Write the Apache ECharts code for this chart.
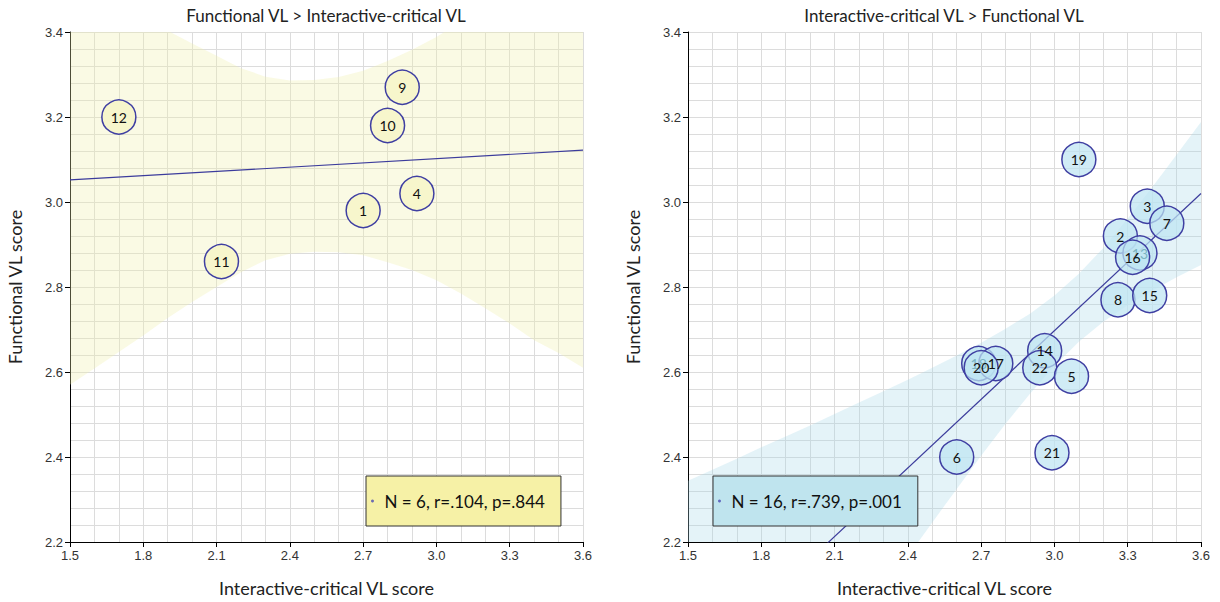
<!DOCTYPE html>
<html>
<head>
<meta charset="utf-8">
<script src="https://cdn.jsdelivr.net/npm/echarts@6/dist/echarts.min.js"></script>
<style>
  html, body { margin: 0; padding: 0; background: #fff; }
  #main { width: 1220px; height: 602px; }
</style>
</head>
<body>
<div id="main"></div>
<script>
(function() {
  'use strict';

  // ========== Data ==========
  // left panel: Functional VL > Interactive-critical VL
  var leftIds = [12, 9, 10, 4, 1, 11];
  var leftX = [1.70, 2.86, 2.80, 2.92, 2.70, 2.12];
  var leftY = [3.20, 3.27, 3.18, 3.02, 2.98, 2.86];
  var leftFitX = [1.5, 3.6];
  var leftFitY = [3.052, 3.122];
  var leftBandX = [1.5, 1.6, 1.7, 1.8, 1.9, 2.0, 2.1, 2.2, 2.3, 2.4, 2.5, 2.6, 2.7, 2.8, 2.9, 3.0, 3.1, 3.2, 3.3, 3.4, 3.5, 3.6];
  var leftBandLow = [2.570, 2.608, 2.647, 2.686, 2.727, 2.765, 2.800, 2.835, 2.863, 2.878, 2.883, 2.882, 2.875, 2.858, 2.840, 2.816, 2.785, 2.750, 2.714, 2.675, 2.645, 2.610];
  var leftBandHigh = [3.534, 3.502, 3.471, 3.438, 3.403, 3.373, 3.344, 3.315, 3.295, 3.286, 3.287, 3.294, 3.309, 3.332, 3.358, 3.388, 3.425, 3.468, 3.510, 3.555, 3.593, 3.634];
  var leftStat = 'N = 6, r=.104, p=.844';

  // right panel: Interactive-critical VL > Functional VL
  var rightIds = [19, 3, 7, 2, 13, 16, 8, 15, 18, 17, 20, 14, 22, 5, 6, 21];
  var rightX = [3.10, 3.38, 3.46, 3.27, 3.35, 3.32, 3.26, 3.39, 2.69, 2.76, 2.70, 2.96, 2.94, 3.07, 2.60, 2.99];
  var rightY = [3.10, 2.99, 2.95, 2.92, 2.88, 2.87, 2.77, 2.78, 2.62, 2.62, 2.61, 2.65, 2.61, 2.59, 2.40, 2.41];
  var rightHidden = [13, 18];
  var rightFitX = [1.5, 3.6];
  var rightFitY = [1.890, 3.020];
  var rightBandX = [1.5, 1.6, 1.7, 1.8, 1.9, 2.0, 2.1, 2.2, 2.3, 2.4, 2.5, 2.6, 2.7, 2.8, 2.9, 3.0, 3.1, 3.2, 3.3, 3.4, 3.5, 3.6];
  var rightBandLow = [1.436, 1.518, 1.600, 1.681, 1.762, 1.844, 1.925, 2.006, 2.087, 2.166, 2.246, 2.325, 2.403, 2.478, 2.549, 2.614, 2.671, 2.718, 2.757, 2.791, 2.823, 2.852];
  var rightBandHigh = [2.344, 2.370, 2.396, 2.423, 2.448, 2.474, 2.501, 2.528, 2.555, 2.582, 2.610, 2.639, 2.669, 2.702, 2.737, 2.780, 2.831, 2.892, 2.961, 3.035, 3.111, 3.188];
  var rightStat = 'N = 16, r=.739, p=.001';

  var titles = ['Functional VL > Interactive-critical VL', 'Interactive-critical VL > Functional VL'];
  var xName = 'Interactive-critical VL score';
  var yName = 'Functional VL score';

  // ========== Styles ==========
  var gridCol = '#dcdcdc';
  var lineCol = '#3c3c9c';
  var ringCol = '#3f3fa2';
  var uiFont = 'Lato';
  var numFont = 'Liberation Sans';

  function xAxis(idx) {
    return {
      type: 'value', gridIndex: idx, min: 1.5, max: 3.6, interval: 0.3,
      name: xName, nameLocation: 'middle', nameGap: 37,
      nameTextStyle: { fontSize: 18, fontFamily: uiFont, color: '#222' },
      axisLine: { show: true, onZero: false, lineStyle: { color: '#000', width: 1 } },
      axisTick: { show: true, length: 5, lineStyle: { color: '#000' } },
      axisLabel: { color: '#333', fontSize: 13, fontFamily: numFont, margin: 7,
        formatter: function(v) { return v.toFixed(1); } },
      splitLine: { show: true, lineStyle: { color: gridCol, width: 1 } },
      minorTick: { show: false, splitNumber: 3 },
      minorSplitLine: { show: true, lineStyle: { color: gridCol, width: 1 } }
    };
  }

  function yAxis(idx) {
    return {
      type: 'value', gridIndex: idx, min: 2.2, max: 3.4, interval: 0.2,
      name: yName, nameLocation: 'middle', nameGap: 46, nameRotate: 90,
      nameTextStyle: { fontSize: 18, fontFamily: uiFont, color: '#222' },
      axisLine: { show: true, onZero: false, lineStyle: { color: '#000', width: 1 } },
      axisTick: { show: true, length: 5, lineStyle: { color: '#000' } },
      axisLabel: { color: '#333', fontSize: 13, fontFamily: numFont, margin: 7,
        formatter: function(v) { return v.toFixed(1); } },
      splitLine: { show: true, lineStyle: { color: gridCol, width: 1 } },
      minorTick: { show: false, splitNumber: 5 },
      minorSplitLine: { show: true, lineStyle: { color: gridCol, width: 1 } }
    };
  }

  function bandSeries(idx, bx, lo, hi, fill) {
    return {
      type: 'custom', xAxisIndex: idx, yAxisIndex: idx, silent: true, z: 1,
      data: [[bx[0], lo[0]]],
      renderItem: function(params, api) {
        var pts = [];
        var i;
        for (i = 0; i < bx.length; i++) pts.push(api.coord([bx[i], lo[i]]));
        for (i = bx.length - 1; i >= 0; i--) pts.push(api.coord([bx[i], hi[i]]));
        var cs = params.coordSys;
        return {
          type: 'polygon',
          shape: { points: pts },
          style: { fill: fill },
          clipPath: { type: 'rect', shape: { x: cs.x, y: cs.y, width: cs.width, height: cs.height } }
        };
      }
    };
  }

  function fitSeries(idx, fx, fy) {
    return {
      type: 'line', xAxisIndex: idx, yAxisIndex: idx, silent: true, z: 2,
      symbol: 'none', clip: true,
      data: fx.map(function(x, i) { return [x, fy[i]]; }),
      lineStyle: { color: lineCol, width: 1.2 }
    };
  }

  function pointSeries(idx, ids, xs, ys, fill, hidden) {
    return {
      type: 'scatter', xAxisIndex: idx, yAxisIndex: idx, silent: true, z: 3,
      symbolSize: 34,
      itemStyle: { color: fill, borderColor: ringCol, borderWidth: 1.5, opacity: 1 },
      label: {
        show: true, position: 'inside', fontSize: 14, fontFamily: uiFont, color: '#111',
        formatter: function(p) { return p.value[2]; }
      },
      data: ids.map(function(id, i) {
        var d = { value: [xs[i], ys[i], id] };
        if (hidden && hidden.indexOf(id) >= 0) d.label = { color: '#7bb3c2' };
        return d;
      })
    };
  }

  function statSeries(idx, name) {
    return {
      type: 'scatter', name: name, xAxisIndex: idx, yAxisIndex: idx,
      data: [], itemStyle: { color: '#4a4ab4' }
    };
  }

  function statLegend(name, left, bg) {
    return {
      data: [{ name: name, icon: 'circle' }],
      left: left, top: 476, orient: 'horizontal',
      itemWidth: 14, itemHeight: 3, itemGap: 0,
      padding: [16, 16, 16, 5],
      backgroundColor: bg, borderColor: '#333', borderWidth: 1,
      selectedMode: false,
      textStyle: { fontSize: 17, fontFamily: uiFont, color: '#111', lineHeight: 18 }
    };
  }

  var chart = echarts.init(document.getElementById('main'), null, { renderer: 'svg' });
  chart.setOption({
    animation: false,
    backgroundColor: '#fff',
    title: [
      { text: titles[0], left: 326, top: 7, textAlign: 'center', padding: 0,
        textStyle: { fontSize: 17, fontWeight: 'normal', fontFamily: uiFont, color: '#222' } },
      { text: titles[1], left: 944, top: 7, textAlign: 'center', padding: 0,
        textStyle: { fontSize: 17, fontWeight: 'normal', fontFamily: uiFont, color: '#222' } }
    ],
    grid: [
      { left: 70, top: 32, width: 513, height: 513 },
      { left: 688, top: 32, width: 513, height: 513 }
    ],
    xAxis: [xAxis(0), xAxis(1)],
    yAxis: [yAxis(0), yAxis(1)],
    legend: [
      statLegend(leftStat, 366, '#f6f1a6'),
      statLegend(rightStat, 713, '#bfe4ee')
    ],
    series: [
      bandSeries(0, leftBandX, leftBandLow, leftBandHigh, 'rgba(240,240,170,0.32)'),
      fitSeries(0, leftFitX, leftFitY),
      pointSeries(0, leftIds, leftX, leftY, '#f7f6cc'),
      statSeries(0, leftStat),
      bandSeries(1, rightBandX, rightBandLow, rightBandHigh, 'rgba(165,215,232,0.3)'),
      fitSeries(1, rightFitX, rightFitY),
      pointSeries(1, rightIds, rightX, rightY, 'rgba(190,229,242,0.72)', rightHidden),
      statSeries(1, rightStat)
    ]
  });
  window.addEventListener('resize', function() { chart.resize(); });
})();
</script>
</body>
</html>
